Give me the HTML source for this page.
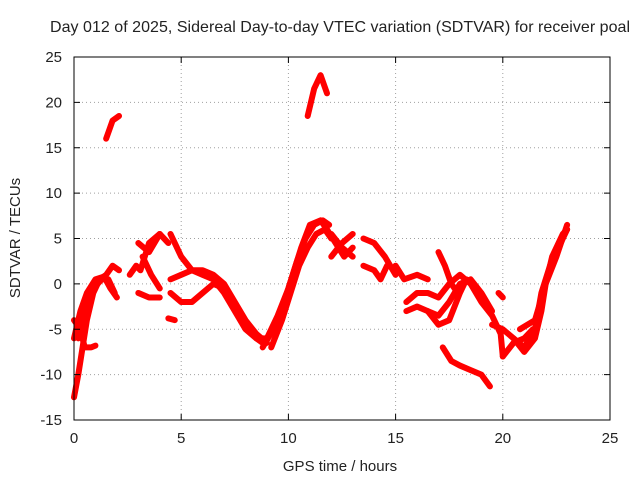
<!DOCTYPE html>
<html><head><meta charset="utf-8"><style>
body{margin:0;background:#fff}
svg text{font-family:"Liberation Sans",sans-serif;font-size:15px;fill:#222}
</style></head><body>
<svg id="c" width="640" height="480" xmlns="http://www.w3.org/2000/svg">
<text x="340" y="32" text-anchor="middle" style="font-size:16px" textLength="580">Day 012 of 2025, Sidereal Day-to-day VTEC variation (SDTVAR) for receiver poal</text>
<text x="340" y="471" text-anchor="middle">GPS time / hours</text>
<text transform="translate(20,238) rotate(-90)" text-anchor="middle">SDTVAR / TECUs</text>
<g id="grid"></g><g id="marks"></g><g id="axes"></g>
</svg>
<script>
const xTicks=[0,5,10,15,20,25];
const yTicks=[-15,-10,-5,0,5,10,15,20,25];
const tracks=[
[[0,-12.5],[0.2,-10],[0.4,-7],[0.6,-4],[0.9,-1],[1.2,0.5],[1.5,1],[1.8,2],[2.1,1.5]],
[[0,-4],[0.3,-5],[0.5,-7],[0.8,-7],[1,-6.8]],
[[0,-6],[0.3,-3],[0.6,-1],[1,0.5],[1.4,0.8],[1.7,-0.5],[2,-1.5]],
[[0.2,-6],[0.5,-3],[0.9,-0.5],[1.3,0.5],[1.6,0.5],[1.9,-1]],
[[1.5,16],[1.8,18],[2.1,18.5]],
[[2.6,1],[2.9,2],[3.1,1.5],[3.5,4.5],[4,5.5],[4.4,4.5]],
[[3,-1],[3.5,-1.5],[4,-1.5]],
[[3.2,3],[3.6,1],[4,-0.5]],
[[3,4.5],[3.5,3.5],[4,5.5]],
[[4.4,-3.8],[4.7,-4]],
[[4.5,5.5],[5,3],[5.5,1.5],[6,1.5],[6.5,1],[7,0],[7.5,-2],[8,-4],[8.5,-5.5],[9,-6.5]],
[[4.5,-1],[5,-2],[5.5,-2],[6,-1],[6.5,0],[7,-0.5],[7.5,-2.5],[8,-4.5],[8.5,-6],[9,-6]],
[[4.5,0.5],[5,1],[5.5,1.5],[6,1],[6.5,0.5],[7,-1],[7.5,-3],[8,-5],[8.5,-6],[8.8,-6.5]],
[[8.8,-7],[9.3,-5],[9.8,-2],[10.2,1],[10.6,4],[11,6.5],[11.5,7],[11.8,6]],
[[9,-6],[9.5,-3.5],[10,-0.5],[10.4,2.5],[10.8,5],[11.2,6.5],[11.6,7],[11.9,6.5]],
[[9.2,-7],[9.7,-4],[10.1,-1],[10.5,2],[10.9,4],[11.3,5.5],[11.7,6],[12,5]],
[[10.9,18.5],[11.2,21.5],[11.5,23],[11.8,21]],
[[11.8,6],[12.2,4.5],[12.6,3],[13,4]],
[[12,5.5],[12.5,4],[13,3]],[[12,3],[12.5,4.5],[13,5.5]],
[[13.5,5],[14,4.5],[14.5,3],[15,1]],
[[13.5,2],[14,1.5],[14.3,0.5],[14.6,2]],
[[15,2],[15.4,0.5],[16,1],[16.5,0.5]],
[[15.5,-2],[16,-1],[16.5,-1],[17,-1.5],[17.5,0],[18,1],[18.5,0],[19,-2],[19.5,-3.5],[19.9,-5.5],[20,-8]],
[[15.5,-3],[16,-2.5],[16.5,-3],[17,-3.5],[17.5,-2],[18,0],[18.5,0.5],[19,-1],[19.5,-3]],
[[17,3.5],[17.3,2],[17.6,0],[17.9,-1]],
[[16.5,-3],[17,-4.5],[17.5,-4],[18,-1],[18.3,0.5]],
[[17.2,-7],[17.6,-8.5],[18,-9],[18.5,-9.5],[19,-10],[19.4,-11.3]],
[[20,-8],[20.5,-6.5],[21,-6],[21.4,-5]],
[[19.5,-4.5],[20,-5],[20.5,-6],[21,-7],[21.5,-5],[21.8,-1],[22.2,2],[22.6,4],[23,6]],
[[20.5,-6],[21,-7.5],[21.5,-6],[21.8,-3],[22,0],[22.3,3],[22.8,5.5],[23,6]],
[[19.8,-1],[20,-1.5]],
[[20.8,-5],[21.5,-4],[22,0],[22.5,3],[23,6.5]]
];
const L=74,R=610,T=57,B=420;
const sx=v=>L+(v-0)/25*(R-L), sy=v=>B-(v+15)/40*(B-T);
const ns="http://www.w3.org/2000/svg";
const g=document.getElementById('grid'),m=document.getElementById('marks'),a=document.getElementById('axes');
function mk(p,t,at){const e=document.createElementNS(ns,t);for(const k in at)e.setAttribute(k,at[k]);p.appendChild(e);return e;}
xTicks.forEach(v=>{
 if(v>0&&v<25){const l=mk(g,'line',{x1:sx(v),x2:sx(v),y1:T,y2:B,stroke:'#a0a0a0','stroke-dasharray':'1,3'});
 
 }
 const t=mk(a,'text',{x:sx(v),y:B+23,'text-anchor':'middle'});t.textContent=v;
 
 
 mk(a,'line',{x1:sx(v),x2:sx(v),y1:B,y2:B-6,stroke:'#000'});
 mk(a,'line',{x1:sx(v),x2:sx(v),y1:T,y2:T+6,stroke:'#000'});
});
yTicks.forEach(v=>{
 if(v>-15&&v<25){const l=mk(g,'line',{x1:L,x2:R,y1:sy(v),y2:sy(v),stroke:'#a0a0a0','stroke-dasharray':'1,3'});
 
 }
 const t=mk(a,'text',{x:L-12,y:sy(v)+5,'text-anchor':'end'});t.textContent=v;
 
 
 mk(a,'line',{x1:L,x2:L+6,y1:sy(v),y2:sy(v),stroke:'#000'});
 mk(a,'line',{x1:R,x2:R-6,y1:sy(v),y2:sy(v),stroke:'#000'});
});
const f=mk(a,'rect',{x:L,y:T,width:R-L,height:B-T,fill:'none',stroke:'#000'});


tracks.forEach(tr=>{
 const p=mk(m,'polyline',{points:tr.map(d=>sx(d[0])+','+sy(d[1])).join(' '),fill:'none',stroke:'#f00','stroke-width':6,'stroke-linejoin':'round','stroke-linecap':'round'});
 
 
});
</script>
</body></html>
